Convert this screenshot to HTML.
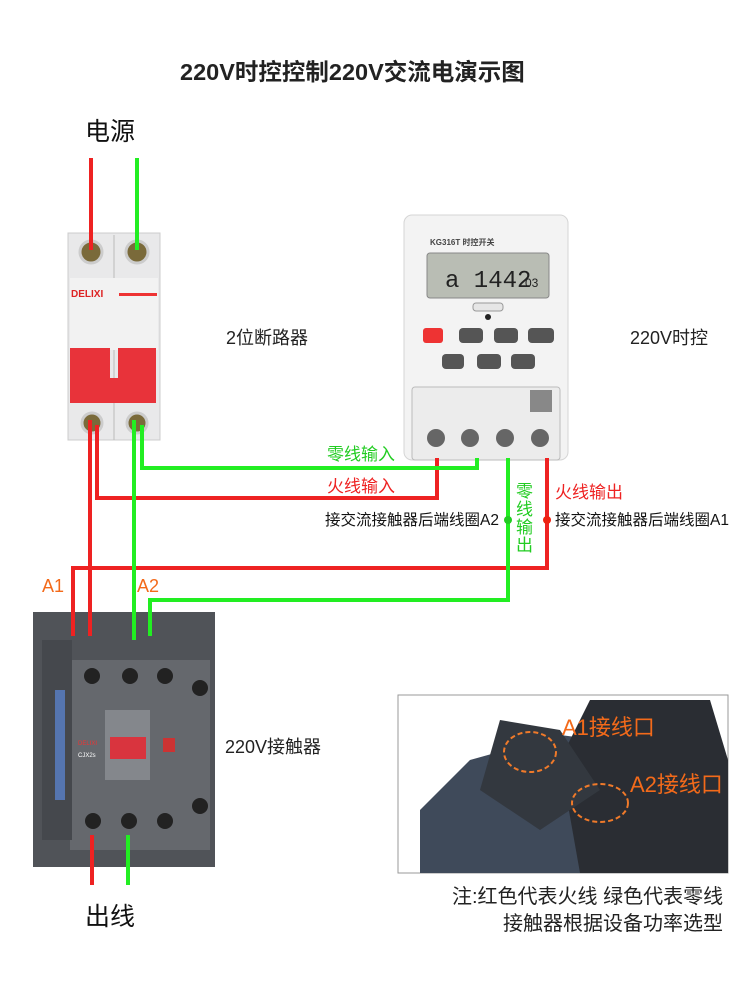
<!DOCTYPE html>
<html><head><meta charset="utf-8"><style>
body{margin:0;width:750px;height:1000px;background:#fff;position:relative;overflow:hidden;font-family:"Liberation Sans","Noto Sans CJK SC",sans-serif;}
.t{position:absolute;white-space:nowrap;line-height:1;}
</style></head><body>
<svg width="750" height="1000" style="position:absolute;left:0;top:0">
<!-- breaker -->
<rect x="68" y="233" width="92" height="207" fill="#e9e9ea" stroke="#ccc"/>
<line x1="114" y1="235" x2="114" y2="440" stroke="#bbb"/>
<circle cx="91" cy="252" r="11" fill="#7a6a3a" stroke="#ccc" stroke-width="3"/>
<circle cx="137" cy="252" r="11" fill="#7a6a3a" stroke="#ccc" stroke-width="3"/>
<rect x="70" y="278" width="88" height="72" fill="#f2f2f2"/>
<text x="71" y="297" font-size="10" font-weight="bold" fill="#d22" font-family="Liberation Sans">DELIXI</text>
<rect x="119" y="293" width="38" height="3" fill="#e33"/>
<rect x="70" y="348" width="40" height="35" fill="#e8333a"/>
<rect x="118" y="348" width="38" height="35" fill="#e8333a"/>
<rect x="70" y="378" width="86" height="25" fill="#e8333a"/>
<circle cx="92" cy="423" r="10" fill="#7a6a3a" stroke="#ccc" stroke-width="3"/>
<circle cx="137" cy="423" r="10" fill="#7a6a3a" stroke="#ccc" stroke-width="3"/>
<!-- timer -->
<rect x="404" y="215" width="164" height="245" rx="8" fill="#f3f3f3" stroke="#d5d5d5"/>
<text x="430" y="245" font-size="8" font-weight="bold" fill="#444">KG316T 时控开关</text>
<rect x="427" y="253" width="122" height="45" rx="3" fill="#b9bdb4" stroke="#888"/>
<text x="445" y="287" font-size="24" fill="#222" font-family="Liberation Mono">a 1442</text>
<text x="525" y="287" font-size="12" fill="#222">03</text>
<rect x="473" y="303" width="30" height="8" rx="3" fill="#e6e6e6" stroke="#999"/>
<circle cx="488" cy="317" r="3" fill="#222"/>
<rect x="423" y="328" width="20" height="15" rx="3" fill="#e33"/>
<rect x="459" y="328" width="24" height="15" rx="4" fill="#555"/>
<rect x="494" y="328" width="24" height="15" rx="4" fill="#555"/>
<rect x="528" y="328" width="26" height="15" rx="4" fill="#555"/>
<rect x="442" y="354" width="22" height="15" rx="4" fill="#555"/>
<rect x="477" y="354" width="24" height="15" rx="4" fill="#555"/>
<rect x="511" y="354" width="24" height="15" rx="4" fill="#555"/>
<rect x="412" y="387" width="148" height="73" rx="3" fill="#ececec" stroke="#bbb"/>
<rect x="530" y="390" width="22" height="22" fill="#888"/>
<circle cx="436" cy="438" r="9" fill="#666"/><circle cx="470" cy="438" r="9" fill="#666"/>
<circle cx="505" cy="438" r="9" fill="#666"/><circle cx="540" cy="438" r="9" fill="#666"/>
<!-- contactor -->
<rect x="33" y="612" width="182" height="255" fill="#505358"/>
<rect x="70" y="660" width="140" height="190" fill="#65686d"/>
<rect x="42" y="640" width="30" height="200" fill="#45484d"/>
<rect x="55" y="690" width="10" height="110" fill="#5575b0"/>
<circle cx="92" cy="676" r="8" fill="#222"/><circle cx="130" cy="676" r="8" fill="#222"/><circle cx="165" cy="676" r="8" fill="#222"/>
<circle cx="200" cy="688" r="8" fill="#222"/><circle cx="200" cy="806" r="8" fill="#222"/>
<circle cx="93" cy="821" r="8" fill="#222"/><circle cx="129" cy="821" r="8" fill="#222"/><circle cx="165" cy="821" r="8" fill="#222"/>
<rect x="105" y="710" width="45" height="70" fill="#84878c"/>
<rect x="110" y="737" width="36" height="22" fill="#d9343e"/>
<rect x="163" y="738" width="12" height="14" fill="#c33"/>
<text x="78" y="745" font-size="6" fill="#e33">DELIXI</text>
<text x="78" y="757" font-size="6" fill="#fff">CJX2s</text>
<!-- inset -->
<rect x="398" y="695" width="330" height="178" fill="#fff" stroke="#999"/>
<polygon points="420,873 420,810 470,760 560,735 600,740 600,873" fill="#3f4a5a"/>
<polygon points="590,700 710,700 728,760 728,873 580,873 560,760" fill="#2a2d33"/>
<polygon points="500,720 560,730 600,790 540,830 480,790" fill="#33383f"/>
<ellipse cx="530" cy="752" rx="26" ry="20" fill="none" stroke="#f07a2a" stroke-width="2" stroke-dasharray="5,3"/>
<ellipse cx="600" cy="803" rx="28" ry="19" fill="none" stroke="#f07a2a" stroke-width="2" stroke-dasharray="5,3"/>
<!-- wires -->
<g fill="none" stroke-width="4">
<path d="M91 158V250M90 420V636M97 425V498H437V458M73 636V568H547V458M92 835V885" stroke="#ee2222"/>
<path d="M137 158V250M134 420V640M142 425V468H477V458M150 636V600H508V458M128 835V885" stroke="#22ee22"/>
</g>
<circle cx="508" cy="520" r="4" fill="#22cc22"/>
<circle cx="547" cy="520" r="4" fill="#e21"/>
</svg>
<div class="t" style="left:180px;top:61px;font-size:23.5px;font-weight:bold;color:#222">220V时控控制220V交流电演示图</div>
<div class="t" style="left:85px;top:120px;font-size:25px;color:#111">电源</div>
<div class="t" style="left:226px;top:329px;font-size:18px;color:#222">2位断路器</div>
<div class="t" style="left:630px;top:329px;font-size:18px;color:#222">220V时控</div>
<div class="t" style="left:327px;top:446px;font-size:17px;color:#2c2">零线输入</div>
<div class="t" style="left:327px;top:478px;font-size:17px;color:#e22">火线输入</div>
<div class="t" style="left:325px;top:513px;font-size:15.5px;color:#111">接交流接触器后端线圈A2</div>
<div class="t" style="left:516px;top:483px;font-size:17px;color:#2c2;width:17px;white-space:normal;line-height:18px">零线输出</div>
<div class="t" style="left:555px;top:484px;font-size:17px;color:#e22">火线输出</div>
<div class="t" style="left:555px;top:513px;font-size:15.5px;color:#111">接交流接触器后端线圈A1</div>
<div class="t" style="left:42px;top:577px;font-size:18px;color:#f36a1a">A1</div>
<div class="t" style="left:137px;top:577px;font-size:18px;color:#f36a1a">A2</div>
<div class="t" style="left:225px;top:738px;font-size:18px;color:#222">220V接触器</div>
<div class="t" style="left:85px;top:905px;font-size:25px;color:#111">出线</div>
<div class="t" style="left:562px;top:717px;font-size:22px;color:#f36a1a">A1接线口</div>
<div class="t" style="left:630px;top:774px;font-size:22px;color:#f36a1a">A2接线口</div>
<div class="t" style="left:452px;top:887px;font-size:20px;color:#222">注:红色代表火线 绿色代表零线</div>
<div class="t" style="left:503px;top:914px;font-size:20px;color:#222">接触器根据设备功率选型</div>
</body></html>
